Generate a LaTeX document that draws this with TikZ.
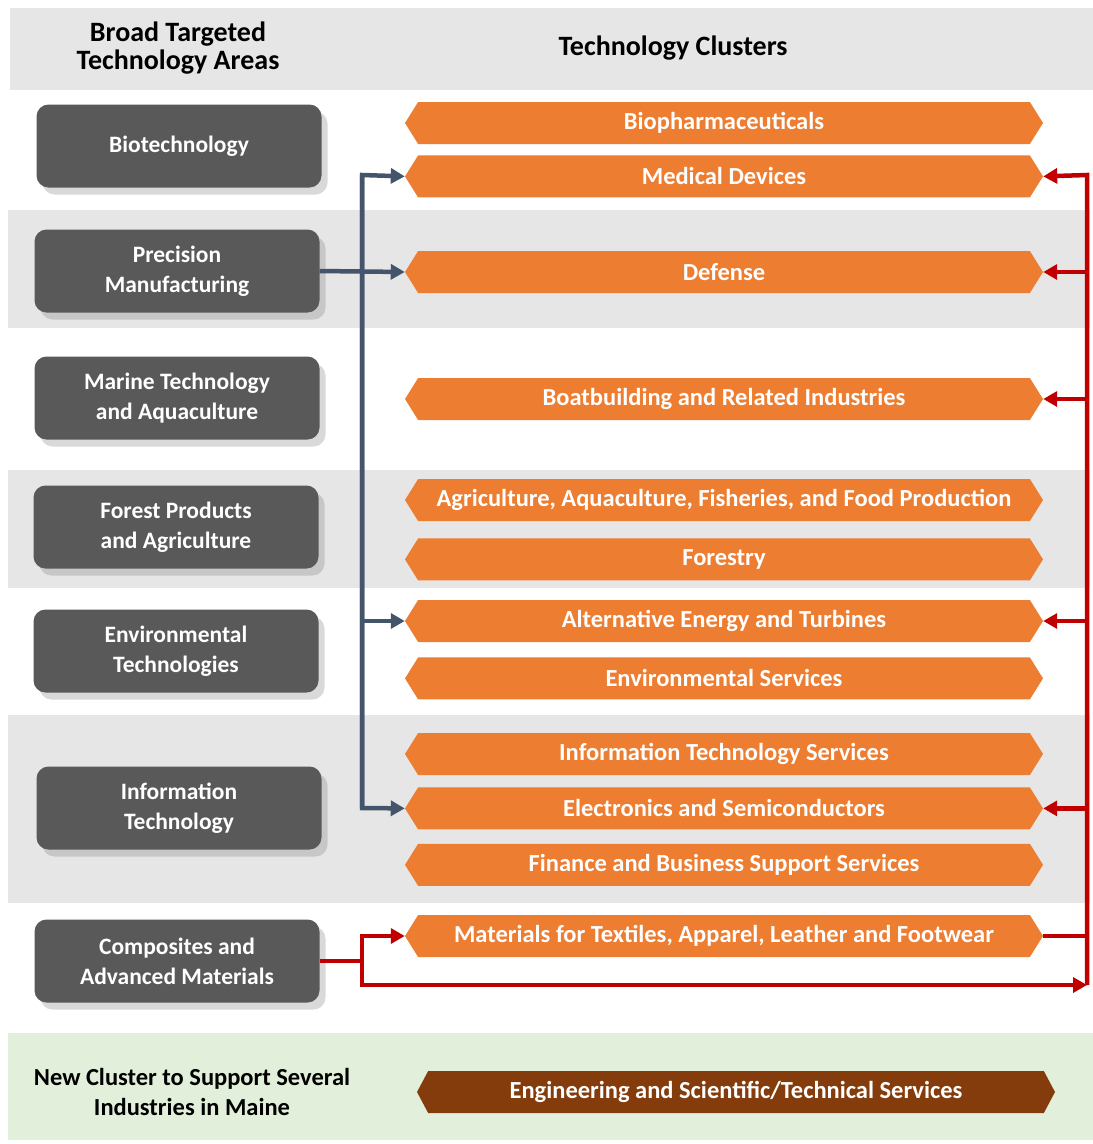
\documentclass[tikz,border=0pt]{standalone}
\usepackage{fontspec}
\setmainfont{Carlito}
\usetikzlibrary{positioning,arrows.meta,shapes.symbols,shadows}

\definecolor{bandgray}{HTML}{E7E6E6}
\definecolor{bandgreen}{HTML}{E2EFDA}
\definecolor{areagray}{HTML}{595959}
\definecolor{clusterorange}{HTML}{ED7D31}
\definecolor{newbrown}{HTML}{843C0C}
\definecolor{linkblue}{HTML}{44546A}
\definecolor{linkred}{HTML}{C00000}

\begin{document}
\begin{tikzpicture}[
    x=1pt, y=-1pt,
    font=\fontsize{24.5}{30}\selectfont\bfseries,
    band/.style={fill=bandgray},
    area/.style={
        fill=areagray,
        rounded corners=12pt,
        minimum width=285pt,
        minimum height=83pt,
        text=white,
        align=center,
        font=\fontsize{23.5}{30}\selectfont\bfseries,
        drop shadow={shadow xshift=6pt, shadow yshift=-7pt, opacity=0.3}
    },
    cluster/.style={
        signal,
        signal to=east and west,
        signal pointer angle=116,
        fill=clusterorange,
        minimum width=638pt,
        minimum height=42pt,
        inner sep=0pt,
        text=white
    },
    newcluster/.style={cluster, fill=newbrown, signal pointer angle=124},
    heading/.style={align=center, text=black, font=\fontsize{28}{28}\selectfont\bfseries},
    bluelink/.style={draw=linkblue, line width=4.5pt},
    bluearrow/.style={bluelink, -{Triangle[length=14pt,width=15pt]}},
    redlink/.style={draw=linkred, line width=4.5pt},
    redarrow/.style={redlink, -{Triangle[length=14pt,width=15pt]}}
]
\useasboundingbox (0,0) rectangle (1093,1144);

% ============================================================
% BACKGROUND BANDS
% ============================================================
\fill[band] (10,8) rectangle (1093,90);
\fill[band] (8,210) rectangle (1090,328);
\fill[band] (8,470) rectangle (1090,588);
\fill[band] (8,715) rectangle (1090,903);
\fill[bandgreen] (8,1033) rectangle (1093,1140);

% ============================================================
% HEADINGS
% ============================================================
\node[heading] (hareas) at (178,48) {Broad Targeted\\Technology Areas};
\node[heading] (hclusters) at (673,48) {Technology Clusters};

% ============================================================
% TECHNOLOGY AREAS
% ============================================================
\node[area] (biotech) at (179,146) {Biotechnology};
\node[area] (precision) at (177,271) {Precision\\Manufacturing};
\node[area] (marine) at (177,398) {Marine Technology\\and Aquaculture};
\node[area] (forest) at (176,527) {Forest Products\\and Agriculture};
\node[area] (environ) at (176,651) {Environmental\\Technologies};
\node[area] (infotech) at (179,808) {Information\\Technology};
\node[area] (composites) at (177,961) {Composites and\\Advanced Materials};

% ============================================================
% CLUSTERS
% ============================================================
\node[cluster] (biopharma) at (724,123) {Biopharmaceuticals};
\node[cluster, below=11pt of biopharma] (meddev) {Medical Devices};
\node[cluster] (defense) at (724,272) {Defense};
\node[cluster] (boat) at (724,399) {Boatbuilding and Related Industries};
\node[cluster] (agri) at (724,500) {Agriculture, Aquaculture, Fisheries, and Food Production};
\node[cluster, below=17pt of agri] (forestry) {Forestry};
\node[cluster] (altenergy) at (724,621) {Alternative Energy and Turbines};
\node[cluster, below=15pt of altenergy] (envserv) {Environmental Services};
\node[cluster] (itserv) at (724,754) {Information Technology Services};
\node[cluster, below=12pt of itserv] (electronics) {Electronics and Semiconductors};
\node[cluster, below=14pt of electronics] (finance) {Finance and Business Support Services};
\node[cluster] (materials) at (724,936) {Materials for Textiles, Apparel, Leather and Footwear};

% ============================================================
% BLUE LINKS
% ============================================================
\coordinate (btop) at (362,175);
\coordinate (bbot) at (362,808);
\draw[bluearrow] (bbot) -- (btop) -- (meddev.west);
\draw[bluearrow] (btop) -- (bbot) -- (electronics.west);
\draw[bluearrow] (precision.east) -- (defense.west);
\draw[bluearrow] (btop |- altenergy.west) -- (altenergy.west);

% ============================================================
% RED LINKS
% ============================================================
\coordinate (rtop) at (1087,175);
\coordinate (rbot) at (1087,985);
\coordinate (csplit) at (362,961);
\coordinate (cup) at (362,936);
\coordinate (cdown) at (362,985);
\draw[redarrow] (rbot) -- (rtop) -- (meddev.east);
\draw[redarrow] (rtop |- defense.east) -- (defense.east);
\draw[redarrow] (rtop |- boat.east) -- (boat.east);
\draw[redarrow] (rtop |- altenergy.east) -- (altenergy.east);
\draw[redarrow] (rtop |- electronics.east) -- (electronics.east);
\draw[redlink] (materials.east) -- (rtop |- materials.east);
\draw[redlink] (composites.east) -- (csplit);
\draw[redarrow] (cdown) -- (cup) -- (materials.west);
\draw[redarrow] (cup) -- (cdown) -- (rbot);

% ============================================================
% NEW CLUSTER
% ============================================================
\node[align=center] (newtext) at (192,1092) {New Cluster to Support Several\\Industries in Maine};
\node[newcluster] (engineering) at (736,1092) {Engineering and Scientific/Technical Services};

\end{tikzpicture}
\end{document}
